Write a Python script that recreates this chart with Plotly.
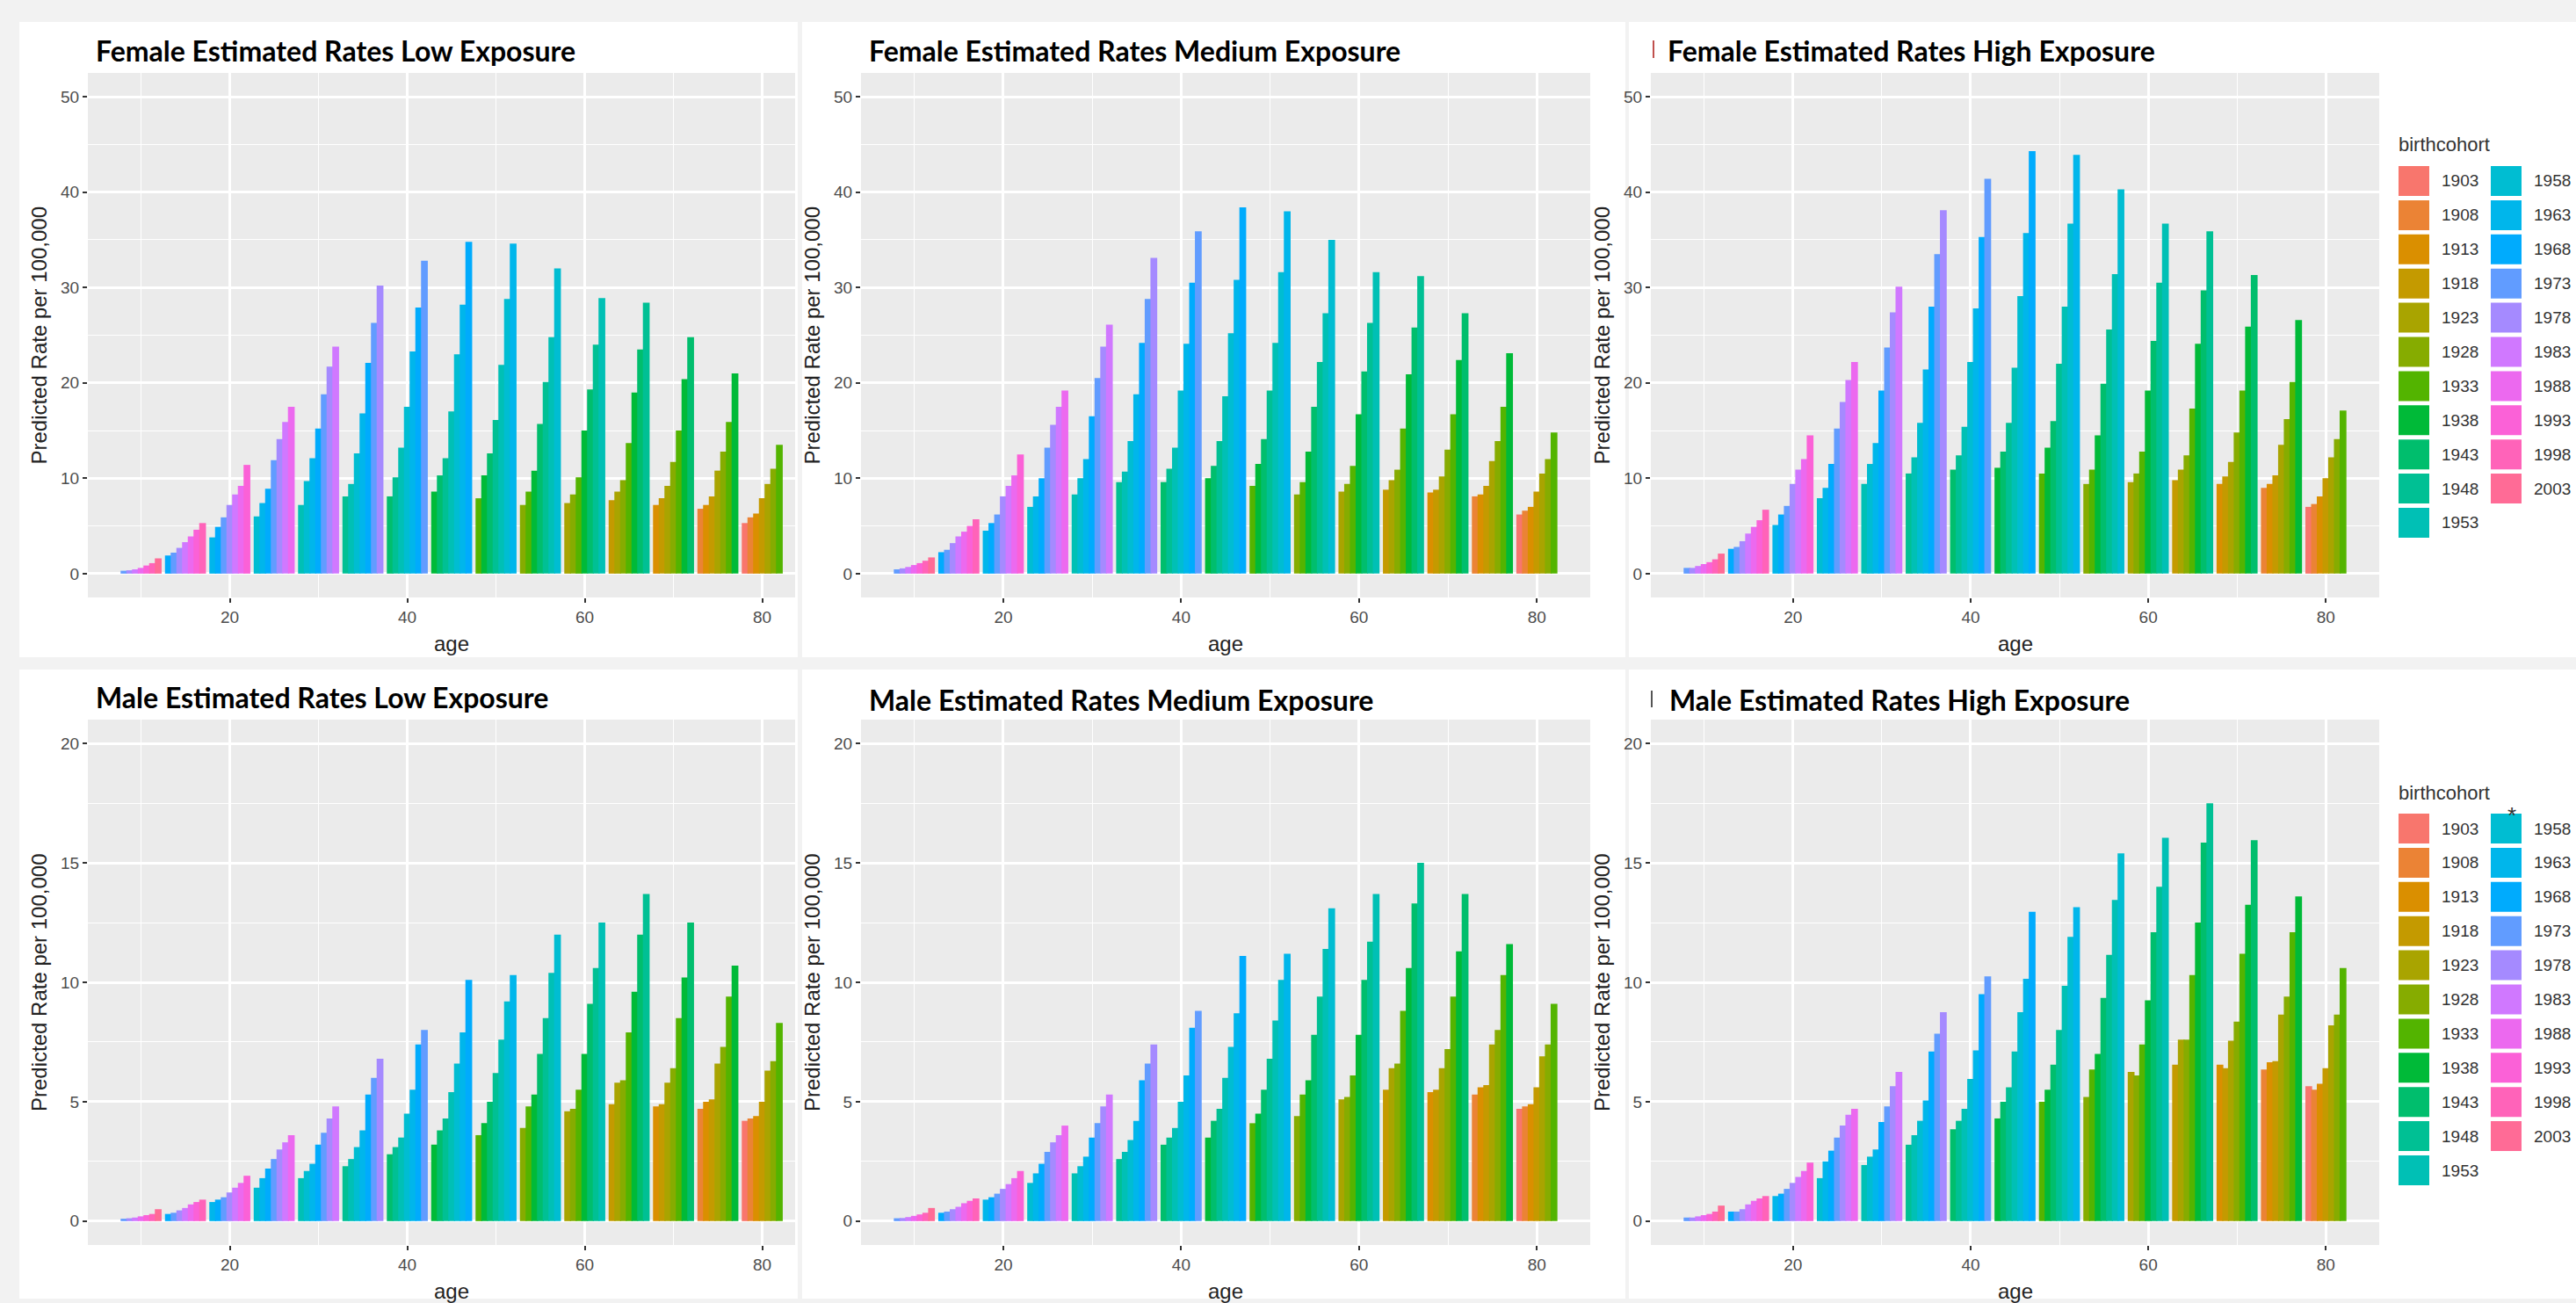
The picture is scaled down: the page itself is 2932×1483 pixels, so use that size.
import math
import plotly.graph_objects as go

# ---------------- data ----------------
ages = [10, 15, 20, 25, 30, 35, 40, 45, 50, 55, 60, 65, 70, 75, 80]
periods = [1983, 1988, 1993, 1998, 2003, 2008, 2013]
cohorts = list(range(1903, 2004, 5))

female_low = [
    [0.30, 0.35, 0.45, 0.60, 0.85, 1.10, 1.60],
    [1.9, 2.2, 2.7, 3.3, 3.9, 4.6, 5.3],
    [3.8, 4.9, 5.9, 7.2, 8.3, 9.2, 11.4],
    [6.0, 7.4, 8.9, 11.9, 14.1, 15.9, 17.5],
    [7.2, 9.7, 12.1, 15.2, 18.8, 21.7, 23.8],
    [8.1, 9.4, 12.6, 16.8, 22.1, 26.3, 30.2],
    [8.1, 10.1, 13.2, 17.5, 23.3, 27.9, 32.8],
    [8.6, 10.3, 12.1, 17.0, 23.0, 28.2, 34.8],
    [7.9, 10.3, 12.6, 16.1, 21.9, 28.8, 34.6],
    [7.2, 8.6, 10.8, 15.7, 20.1, 24.8, 32.0],
    [7.4, 8.3, 10.1, 15.0, 19.3, 24.0, 28.9],
    [7.7, 8.6, 9.8, 13.7, 19.0, 23.5, 28.4],
    [7.2, 7.9, 9.2, 11.7, 15.0, 20.4, 24.8],
    [6.8, 7.2, 8.1, 10.8, 12.8, 15.9, 21.0],
    [5.3, 5.9, 6.3, 7.9, 9.4, 11.0, 13.5],
]

female_medium = [
    [0.45, 0.55, 0.7, 0.9, 1.1, 1.35, 1.7],
    [2.25, 2.5, 3.2, 3.9, 4.4, 5.0, 5.7],
    [4.5, 5.3, 6.2, 8.1, 9.2, 10.3, 12.5],
    [7.0, 8.1, 10.0, 13.2, 15.6, 17.5, 19.2],
    [8.3, 10.0, 12.0, 16.5, 20.5, 23.8, 26.1],
    [9.6, 10.7, 13.9, 18.8, 24.2, 28.8, 33.1],
    [9.6, 11.0, 13.2, 19.2, 24.1, 30.5, 35.9],
    [10.0, 11.3, 13.9, 18.6, 25.2, 30.8, 38.4],
    [9.2, 11.5, 14.1, 19.2, 24.2, 31.6, 38.0],
    [8.3, 9.6, 12.8, 17.5, 22.2, 27.3, 35.0],
    [8.6, 9.4, 11.3, 16.7, 21.2, 26.3, 31.6],
    [8.8, 9.8, 10.9, 15.2, 20.9, 25.8, 31.2],
    [8.5, 8.8, 10.2, 13.0, 16.7, 22.4, 27.3],
    [8.1, 8.3, 9.2, 11.8, 13.9, 17.5, 23.1],
    [6.2, 6.6, 7.0, 8.6, 10.5, 12.0, 14.8],
]

female_high = [
    [0.6, 0.6, 0.8, 1.0, 1.2, 1.5, 2.1],
    [2.6, 2.8, 3.4, 4.2, 4.9, 5.6, 6.7],
    [5.1, 6.2, 7.1, 9.4, 10.9, 12.0, 14.5],
    [7.9, 9.0, 11.5, 15.2, 18.0, 20.3, 22.2],
    [9.4, 11.5, 13.7, 19.2, 23.7, 27.4, 30.1],
    [10.5, 12.2, 15.8, 21.4, 28.0, 33.5, 38.1],
    [10.9, 12.4, 15.4, 22.2, 27.8, 35.3, 41.4],
    [11.1, 12.8, 15.8, 21.6, 29.1, 35.7, 44.3],
    [10.5, 13.2, 16.0, 22.0, 28.0, 36.7, 43.9],
    [9.4, 10.9, 14.5, 19.9, 25.6, 31.4, 40.3],
    [9.6, 10.5, 12.8, 19.2, 24.4, 30.5, 36.7],
    [9.8, 10.9, 12.4, 17.3, 24.1, 29.7, 35.9],
    [9.4, 10.2, 11.7, 14.8, 19.2, 25.9, 31.3],
    [9.0, 9.4, 10.3, 13.5, 16.2, 20.1, 26.6],
    [7.0, 7.3, 8.1, 10.0, 12.2, 14.1, 17.1],
]

male_low = [
    [0.10, 0.12, 0.15, 0.20, 0.25, 0.30, 0.50],
    [0.30, 0.35, 0.45, 0.55, 0.70, 0.80, 0.90],
    [0.8, 0.9, 1.0, 1.2, 1.4, 1.6, 1.9],
    [1.4, 1.8, 2.2, 2.6, 3.0, 3.3, 3.6],
    [1.8, 2.1, 2.4, 3.2, 3.7, 4.3, 4.8],
    [2.3, 2.6, 3.1, 3.8, 5.3, 6.0, 6.8],
    [2.8, 3.1, 3.5, 4.5, 5.5, 7.4, 8.0],
    [3.2, 3.8, 4.3, 5.4, 6.6, 7.9, 10.1],
    [3.6, 4.1, 5.0, 6.2, 7.6, 9.2, 10.3],
    [3.9, 4.8, 5.3, 7.0, 8.5, 10.4, 12.0],
    [4.6, 4.7, 5.5, 7.0, 9.1, 10.6, 12.5],
    [4.9, 5.8, 5.9, 7.9, 9.6, 12.0, 13.7],
    [4.8, 4.9, 5.8, 6.4, 8.5, 10.2, 12.5],
    [4.7, 5.0, 5.1, 6.6, 7.3, 9.4, 10.7],
    [4.2, 4.3, 4.4, 5.0, 6.3, 6.7, 8.3],
]

male_medium = [
    [0.12, 0.13, 0.17, 0.22, 0.28, 0.35, 0.55],
    [0.35, 0.40, 0.50, 0.60, 0.75, 0.85, 0.95],
    [0.9, 1.0, 1.15, 1.35, 1.55, 1.8, 2.1],
    [1.6, 2.0, 2.4, 2.9, 3.3, 3.6, 4.0],
    [2.0, 2.3, 2.7, 3.5, 4.1, 4.8, 5.3],
    [2.6, 2.9, 3.4, 4.2, 5.9, 6.6, 7.4],
    [3.2, 3.5, 3.9, 5.0, 6.1, 8.1, 8.8],
    [3.5, 4.2, 4.7, 6.0, 7.3, 8.7, 11.1],
    [4.1, 4.5, 5.5, 6.8, 8.4, 10.1, 11.2],
    [4.4, 5.3, 5.9, 7.8, 9.4, 11.4, 13.1],
    [5.1, 5.2, 6.1, 7.8, 10.1, 11.7, 13.7],
    [5.5, 6.4, 6.6, 8.8, 10.6, 13.3, 15.0],
    [5.4, 5.5, 6.4, 7.2, 9.4, 11.3, 13.7],
    [5.3, 5.6, 5.7, 7.4, 8.0, 10.3, 11.6],
    [4.7, 4.8, 4.9, 5.6, 6.9, 7.4, 9.1],
]

male_high = [
    [0.15, 0.15, 0.20, 0.25, 0.30, 0.40, 0.65],
    [0.40, 0.40, 0.50, 0.70, 0.85, 0.95, 1.05],
    [1.05, 1.15, 1.35, 1.6, 1.85, 2.1, 2.45],
    [1.8, 2.5, 2.95, 3.5, 4.0, 4.45, 4.7],
    [2.35, 2.7, 3.0, 4.15, 4.8, 5.65, 6.25],
    [3.2, 3.6, 4.2, 5.05, 7.1, 7.85, 8.75],
    [3.85, 4.2, 4.7, 5.95, 7.15, 9.5, 10.25],
    [4.3, 5.0, 5.6, 7.1, 8.75, 10.15, 12.95],
    [5.0, 5.5, 6.55, 8.0, 9.85, 11.9, 13.15],
    [5.2, 6.35, 7.0, 9.35, 11.15, 13.45, 15.4],
    [6.25, 6.1, 7.4, 9.25, 12.1, 14.0, 16.05],
    [6.55, 7.6, 7.6, 10.3, 12.5, 15.85, 17.5],
    [6.55, 6.4, 7.55, 8.35, 11.2, 13.25, 15.95],
    [6.35, 6.65, 6.7, 8.65, 9.4, 12.1, 13.6],
    [5.65, 5.5, 5.75, 6.4, 8.2, 8.65, 10.6],
]

titles = [
    "Female Estimated Rates Low Exposure",
    "Female Estimated Rates Medium Exposure",
    "Female Estimated Rates High Exposure",
    "Male Estimated Rates Low Exposure",
    "Male Estimated Rates Medium Exposure",
    "Male Estimated Rates High Exposure",
]
y_title = "Predicted Rate per 100,000"
x_title = "age"
legend_title = "birthcohort"
x_ticks = [20, 40, 60, 80]
y_ticks_top = [0, 10, 20, 30, 40, 50]
y_ticks_bottom = [0, 5, 10, 15, 20]

# ---------------- styling helpers ----------------
W, H = 2932, 1483


def hue_pal(n, h0=15.0, c=100.0, l=65.0):
    """ggplot2 default discrete hue palette (HCL -> sRGB)."""
    out = []
    Xn, Yn, Zn = 95.047, 100.0, 108.883
    den = Xn + 15 * Yn + 3 * Zn
    un, vn = 4 * Xn / den, 9 * Yn / den
    for i in range(n):
        h = math.radians(h0 + i * 360.0 / n)
        U, V = c * math.cos(h), c * math.sin(h)
        Y = Yn * ((l + 16) / 116) ** 3
        u = U / (13 * l) + un
        v = V / (13 * l) + vn
        X = 9.0 * Y * u / (4 * v)
        Z = -X / 3 - 5 * Y + 3 * Y / v
        rgb = [
            (3.240479 * X - 1.537150 * Y - 0.498535 * Z) / Yn,
            (-0.969256 * X + 1.875992 * Y + 0.041556 * Z) / Yn,
            (0.055648 * X - 0.204043 * Y + 1.057311 * Z) / Yn,
        ]
        res = []
        for t in rgb:
            t = 1.055 * t ** (1 / 2.4) - 0.055 if t > 0.00304 else 12.92 * t
            res.append(int(round(255 * min(1, max(0, t)))))
        out.append("#%02X%02X%02X" % tuple(res))
    return out


colors = dict(zip(cohorts, hue_pal(len(cohorts))))


def px(x):
    return x / W


def py(y):
    return 1 - y / H


# plot-area geometry (pixels)
col_dom = [(100, 905), (980, 1810), (1879, 2708)]
col_rng = [(4, 4 + 805 / 10.1), (4, 86), (4, 86)]
row_dom = [(83, 680), (819, 1417)]
row_rng = [(-2.5, 52.5), (-1, 21)]

panels = [female_low, female_medium, female_high, male_low, male_medium, male_high]

fig = go.Figure()
bar_w = 4.5 / len(periods)
mid = (len(periods) - 1) / 2

for k, data in enumerate(panels):
    suffix = "" if k == 0 else str(k + 1)
    for c in cohorts:
        xs, ys = [], []
        for i, a in enumerate(ages):
            p = c + a
            if p in periods:
                j = periods.index(p)
                xs.append(a + (j - mid) * bar_w)
                ys.append(data[i][j])
        if xs:
            fig.add_trace(go.Bar(
                x=xs, y=ys, width=bar_w + 0.12, name=str(c),
                marker=dict(color=colors[c], line=dict(width=0)),
                showlegend=False, xaxis="x" + suffix, yaxis="y" + suffix,
            ))

tick_font = dict(family="Liberation Sans, Arial, sans-serif", size=19, color="#4D4D4D")
layout = dict(
    width=W, height=H, margin=dict(l=0, r=0, t=0, b=0),
    paper_bgcolor="white", plot_bgcolor="#EBEBEB",
    barmode="overlay", showlegend=False,
    font=dict(family="Liberation Sans, Arial, sans-serif"),
)

for k in range(6):
    r, cidx = divmod(k, 3)
    suffix = "" if k == 0 else str(k + 1)
    xd, yd = col_dom[cidx], row_dom[r]
    yt = y_ticks_top if r == 0 else y_ticks_bottom
    ystep = yt[1] - yt[0]
    layout["xaxis" + suffix] = dict(
        domain=[px(xd[0]), px(xd[1])], range=list(col_rng[cidx]),
        anchor="y" + suffix, tickvals=x_ticks, ticks="outside", ticklen=5,
        tickcolor="#333333", tickwidth=1.5, tickfont=tick_font,
        showgrid=True, gridcolor="white", gridwidth=2.5, zeroline=False, showline=False,
        minor=dict(tickvals=[10, 30, 50, 70], showgrid=True, gridcolor="white", gridwidth=1.2, ticks=""),
    )
    layout["yaxis" + suffix] = dict(
        domain=[py(yd[1]), py(yd[0])], range=list(row_rng[r]),
        anchor="x" + suffix, tickvals=yt, ticks="outside", ticklen=5,
        tickcolor="#333333", tickwidth=1.5, tickfont=tick_font,
        showgrid=True, gridcolor="white", gridwidth=2.5, zeroline=False, showline=False,
        minor=dict(tickvals=[v + ystep / 2 for v in yt[:-1]], showgrid=True,
                   gridcolor="white", gridwidth=1.2, ticks=""),
    )

shapes = []
annotations = []

# light-grey gaps between the six pasted ggplot images
gap_col = "#F2F2F2"
gaps = [
    (0, 0, W, 25),          # top band
    (0, 748, W, 762),       # between rows
    (0, 1478, W, H),        # bottom band
    (0, 0, 22, H),          # left band
    (908, 0, 913, H),       # between col 1 and 2
    (1850, 0, 1854, H),     # between col 2 and 3
]
for (x0, y0, x1, y1) in gaps:
    shapes.append(dict(type="rect", xref="paper", yref="paper", layer="below",
                       x0=px(x0), x1=px(x1), y0=py(y1), y1=py(y0),
                       fillcolor=gap_col, line=dict(width=0)))

# panel titles
title_pos = [(107, 57), (987, 57), (1896, 57), (107, 793), (987, 797), (1898, 796)]
for t, (x, y) in zip(titles, title_pos):
    annotations.append(dict(text="<b>" + t + "</b>", x=px(x), y=py(y), xref="paper", yref="paper",
                            xanchor="left", yanchor="middle", showarrow=False,
                            font=dict(family="Lato, Open Sans, sans-serif", size=32, color="black")))

# small marks left of the right-hand titles
shapes.append(dict(type="line", xref="paper", yref="paper", x0=px(1882), x1=px(1882),
                   y0=py(66), y1=py(46), line=dict(color="#C0504D", width=2)))
shapes.append(dict(type="line", xref="paper", yref="paper", x0=px(1880), x1=px(1880),
                   y0=py(805), y1=py(786), line=dict(color="#555555", width=2)))

# axis titles
axis_font = dict(family="Liberation Sans, Arial, sans-serif", size=24, color="#222222")
for r in range(2):
    yd = row_dom[r]
    for cidx in range(3):
        xd = col_dom[cidx]
        annotations.append(dict(text=y_title, x=px(xd[0] - 56), y=py((yd[0] + yd[1]) / 2),
                                xref="paper", yref="paper", textangle=-90, showarrow=False,
                                xanchor="center", yanchor="middle", font=axis_font))
        rng = col_rng[cidx]
        full_right = xd[0] + (86 - 4) * (xd[1] - xd[0]) / (rng[1] - rng[0])
        annotations.append(dict(text=x_title, x=px((xd[0] + full_right) / 2),
                                y=py(yd[1] + 52), xref="paper", yref="paper", showarrow=False,
                                xanchor="center", yanchor="middle", font=axis_font))

# legends (drawn as in the ggplot guide, two columns)
leg_font = dict(family="Liberation Sans, Arial, sans-serif", size=19, color="#333333")
for base in (206, 943):
    annotations.append(dict(text=legend_title, x=px(2728), y=py(base - 41), xref="paper", yref="paper",
                            xanchor="left", yanchor="middle", showarrow=False,
                            font=dict(family="Liberation Sans, Arial, sans-serif", size=22, color="#333333")))
    per_col = math.ceil(len(cohorts) / 2)
    for i, c in enumerate(cohorts):
        col, row = divmod(i, per_col)
        x0 = 2730 + col * 105
        yc = base + row * 38.9
        shapes.append(dict(type="rect", xref="paper", yref="paper", x0=px(x0), x1=px(x0 + 35),
                           y0=py(yc + 17), y1=py(yc - 17), fillcolor=colors[c], line=dict(width=0)))
        annotations.append(dict(text=str(c), x=px(x0 + 47), y=py(yc), xref="paper", yref="paper",
                                xanchor="left", yanchor="middle", showarrow=False, font=leg_font))

annotations.append(dict(text="*", x=px(2866), y=py(928), xref="paper", yref="paper", showarrow=False,
                        font=dict(family="Liberation Sans, Arial, sans-serif", size=26, color="#333333")))

layout["shapes"] = shapes
layout["annotations"] = annotations
fig.update_layout(**layout)
fig.write_html("out.html")
